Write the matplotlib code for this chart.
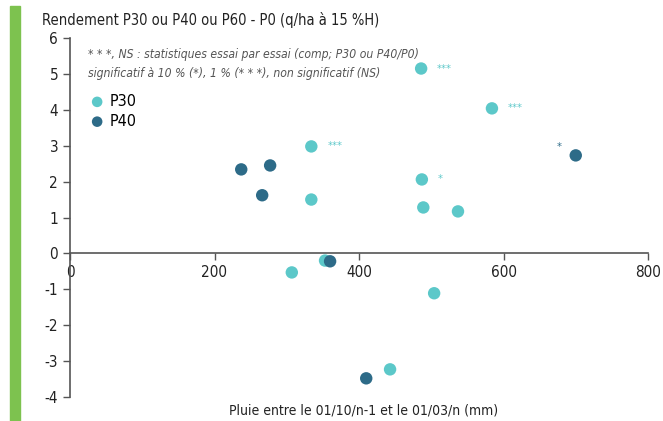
import matplotlib.pyplot as plt
from matplotlib.patches import Rectangle

plt.rcParams['font.family'] = ['DejaVu Sans']
plt.rcParams['font.stretch'] = 'condensed'
plt.rcParams['axes.unicode_minus'] = False

# P30 trials
p30_x = [486, 584, 334, 334, 487, 489, 537, 307, 353, 504, 443]
p30_y = [5.15, 4.04, 2.98, 1.50, 2.06, 1.28, 1.17, -0.53, -0.20, -1.11, -3.23]
# P40 trials
p40_x = [237, 277, 266, 700, 360, 410]
p40_y = [2.34, 2.45, 1.62, 2.73, -0.22, -3.48]

# significance labels: (x, y, text, series)
sig_labels = [(486, 5.15, '***', 'P30'), (584, 4.04, '***', 'P30'),
              (334, 2.98, '***', 'P30'), (487, 2.06, '*', 'P30'),
              (700, 2.73, '*', 'P40')]

c30 = '#5cc8c9'
c40 = '#2d6b88'
axc = '#555555'

fig = plt.figure(figsize=(6.63, 4.21), dpi=100)
fig.patches.append(Rectangle((10 / 663, 0), 10 / 663, 1 - 6 / 421,
                             transform=fig.transFigure, color='#7dc24f', zorder=0))
ax = fig.add_axes([70 / 663, 1 - 397 / 421, 578 / 663, 359 / 421])

ax.scatter(p30_x, p30_y, s=80, color=c30, edgecolors='none', label='P30', zorder=3)
ax.scatter(p40_x, p40_y, s=80, color=c40, edgecolors='none', label='P40', zorder=3)

for x, y, t, s in sig_labels:
    if s == 'P30':
        ax.text(x + 22, y, t, color=c30, fontsize=8, va='center', ha='left')
    else:
        ax.text(x - 20, y + 0.22, t, color=c40, fontsize=8, va='center', ha='right')

ax.set_xlim(0, 800)
ax.set_ylim(-4, 6)
ax.set_xticks([0, 200, 400, 600, 800])
ax.set_yticks(range(-4, 7))
ax.spines['top'].set_visible(False)
ax.spines['right'].set_visible(False)
ax.spines['bottom'].set_position(('data', 0))
for sp in ['left', 'bottom']:
    ax.spines[sp].set_color(axc)
    ax.spines[sp].set_linewidth(1.2)
ax.tick_params(colors=axc, labelcolor='#222222', labelsize=11, length=5, width=1)

fig.text(42 / 663, 1 - 20 / 421, 'Rendement P30 ou P40 ou P60 - P0 (q/ha à 15 %H)',
         fontsize=10.5, color='#222222', va='center', ha='left')
ax.text(0.031, 0.955, '* * *, NS : statistiques essai par essai (comp; P30 ou P40/P0)',
        transform=ax.transAxes, fontsize=8.7, style='italic', color='#555555', va='center')
ax.text(0.031, 0.90, 'significatif à 10 % (*), 1 % (* * *), non significatif (NS)',
        transform=ax.transAxes, fontsize=8.7, style='italic', color='#555555', va='center')
ax.legend(loc='upper left', bbox_to_anchor=(0.0, 0.875), frameon=False, fontsize=11.5,
          handletextpad=-0.2, labelspacing=0.3, markerscale=0.85, borderpad=0.2)
fig.text(0.548, 1 - 410 / 421, 'Pluie entre le 01/10/n-1 et le 01/03/n (mm)',
         fontsize=10, color='#222222', va='center', ha='center')

fig.savefig('out.png', dpi=100)
